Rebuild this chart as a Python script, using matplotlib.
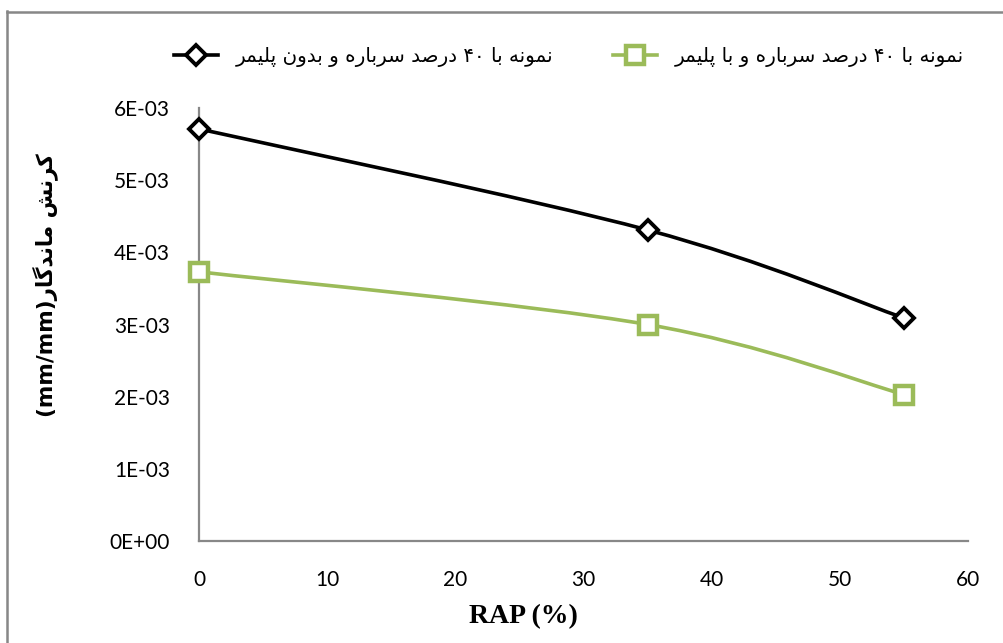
import re
import matplotlib
matplotlib.use('Agg')
import matplotlib.pyplot as plt
from matplotlib.path import Path
from matplotlib.patches import PathPatch
from matplotlib.lines import Line2D

# ---------------- data ----------------
rap = [0, 35, 55]
strain_no_polymer = [5.71e-3, 4.31e-3, 3.09e-3]
strain_polymer = [3.73e-3, 3.00e-3, 2.03e-3]

label_no_polymer = "نمونه با ۴۰ درصد سرباره و بدون پلیمر"
label_polymer = "نمونه با ۴۰ درصد سرباره و با پلیمر"
ylabel_fa = "کرنش ماندگار"
ylabel_unit = "(mm/mm)"
xlabel = "RAP (%)"

xticks = [0, 10, 20, 30, 40, 50, 60]
yticks = [0, 1e-3, 2e-3, 3e-3, 4e-3, 5e-3, 6e-3]
ytick_labels = ["0E+00", "1E-03", "2E-03", "3E-03", "4E-03", "5E-03", "6E-03"]

# ------------- minimal Persian shaping -------------
FORMS = {
    'ا': ('\uFE8D', '\uFE8E', None, None),
    'ب': ('\uFE8F', '\uFE90', '\uFE91', '\uFE92'),
    'پ': ('\uFB56', '\uFB57', '\uFB58', '\uFB59'),
    'د': ('\uFEA9', '\uFEAA', None, None),
    'ر': ('\uFEAD', '\uFEAE', None, None),
    'س': ('\uFEB1', '\uFEB2', '\uFEB3', '\uFEB4'),
    'ش': ('\uFEB5', '\uFEB6', '\uFEB7', '\uFEB8'),
    'ص': ('\uFEB9', '\uFEBA', '\uFEBB', '\uFEBC'),
    '\u06A9': ('\uFB8E', '\uFB8F', '\uFB90', '\uFB91'),
    '\u0643': ('\uFED9', '\uFEDA', '\uFEDB', '\uFEDC'),
    'گ': ('\uFB92', '\uFB93', '\uFB94', '\uFB95'),
    'ل': ('\uFEDD', '\uFEDE', '\uFEDF', '\uFEE0'),
    'م': ('\uFEE1', '\uFEE2', '\uFEE3', '\uFEE4'),
    'ن': ('\uFEE5', '\uFEE6', '\uFEE7', '\uFEE8'),
    'ه': ('\uFEE9', '\uFEEA', '\uFEEB', '\uFEEC'),
    'و': ('\uFEED', '\uFEEE', None, None),
    '\u06CC': ('\uFBFC', '\uFBFD', '\uFBFE', '\uFBFF'),
    '\u064A': ('\uFBFC', '\uFBFD', '\uFBFE', '\uFBFF'),
}


def _dual(c):
    return c in FORMS and FORMS[c][2] is not None


def _joins(c):
    return c in FORMS


def shape(text):
    out = []
    n = len(text)
    for i, c in enumerate(text):
        if c not in FORMS:
            out.append(c)
            continue
        prev_c = text[i - 1] if i > 0 else ''
        next_c = text[i + 1] if i < n - 1 else ''
        jp = _dual(prev_c)
        jn = _dual(c) and _joins(next_c)
        iso, fin, ini, med = FORMS[c]
        if jp and jn:
            out.append(med)
        elif jp:
            out.append(fin)
        elif jn:
            out.append(ini)
        else:
            out.append(iso)
    shaped = ''.join(out)
    tokens = re.findall(r'[0-9\u06F0-\u06F9]+|.', shaped)
    return ''.join(reversed(tokens))


# ------------- figure -------------
fig = plt.figure(figsize=(10.04, 6.43), dpi=100)
ax = fig.add_axes([199 / 1004, 1 - 541 / 643, (968 - 199) / 1004, (541 - 108) / 643])

BLACK = '#000000'
GREEN = '#9BBB59'


def smooth_path(xs, ys):
    pts = list(zip(xs, ys))
    verts = [pts[0]]
    codes = [Path.MOVETO]
    n = len(pts)
    for i in range(n - 1):
        p0 = pts[i - 1] if i > 0 else pts[i]
        p1 = pts[i]
        p2 = pts[i + 1]
        p3 = pts[i + 2] if i + 2 < n else pts[i + 1]
        c1 = (p1[0] + (p2[0] - p0[0]) / 6, p1[1] + (p2[1] - p0[1]) / 6)
        c2 = (p2[0] - (p3[0] - p1[0]) / 6, p2[1] - (p3[1] - p1[1]) / 6)
        verts += [c1, c2, p2]
        codes += [Path.CURVE4] * 3
    return Path(verts, codes)


for ys, col in [(strain_no_polymer, BLACK), (strain_polymer, GREEN)]:
    ax.add_patch(PathPatch(smooth_path(rap, ys), fill=False, edgecolor=col,
                           lw=2.6, capstyle='round', joinstyle='round', zorder=3,
                           clip_on=False))

ax.plot(rap, strain_no_polymer, linestyle='none', marker='D', markersize=10.5,
        markerfacecolor='white', markeredgecolor=BLACK, markeredgewidth=2.8, zorder=4,
        clip_on=False)
ax.plot(rap, strain_polymer, linestyle='none', marker='s', markersize=13.5,
        markerfacecolor='white', markeredgecolor=GREEN, markeredgewidth=3.2, zorder=4,
        clip_on=False)

ax.set_xlim(0, 60)
ax.set_ylim(0, 6e-3)
ax.set_xticks(xticks)
ax.set_xticklabels([str(v) for v in xticks], fontsize=15, family='Lato')
ax.set_yticks(yticks)
ax.set_yticklabels(ytick_labels, fontsize=15, family='Lato')
ax.tick_params(axis='both', length=0, colors='#000000')
ax.tick_params(axis='x', pad=21)
ax.tick_params(axis='y', pad=21)

for s in ['top', 'right']:
    ax.spines[s].set_visible(False)
for s in ['left', 'bottom']:
    ax.spines[s].set_color('#888888')
    ax.spines[s].set_linewidth(1.6)

ax.set_xlabel(xlabel, fontsize=20, family='Liberation Serif', fontweight='bold')
ax.xaxis.set_label_coords((523 - 199) / (968 - 199), -(617 - 541) / (541 - 108))
ax.xaxis.label.set_va('center')

fig.text(45 / 1004, 1 - 285 / 643, ylabel_unit + shape(ylabel_fa), rotation=90,
         ha='center', va='center', fontsize=15.5, fontweight='bold',
         family=['DejaVu Sans'])

handles = [
    Line2D([], [], color=BLACK, lw=2.6, marker='D', markersize=10.5,
           markerfacecolor='white', markeredgecolor=BLACK, markeredgewidth=2.8),
    Line2D([], [], color=GREEN, lw=2.6, marker='s', markersize=13.5,
           markerfacecolor='white', markeredgecolor=GREEN, markeredgewidth=3.2),
]
fig.legend(handles, [shape(label_no_polymer), shape(label_polymer)],
           loc='center', bbox_to_anchor=(569 / 1004, 1 - 57 / 643), ncol=2,
           frameon=False, prop={'family': ['DejaVu Sans'], 'size': 14.3},
           handlelength=2.2, handletextpad=0.9, columnspacing=3.0)

# outer chart border (left + top)
fig.add_artist(Line2D([7.5 / 1004, 7.5 / 1004], [0, 1 - 11 / 643], color='#878787',
                      lw=1.8, transform=fig.transFigure))
fig.add_artist(Line2D([7 / 1004, 1], [1 - 11.5 / 643, 1 - 11.5 / 643], color='#878787',
                      lw=1.8, transform=fig.transFigure))

fig.savefig('out.png', dpi=100)
